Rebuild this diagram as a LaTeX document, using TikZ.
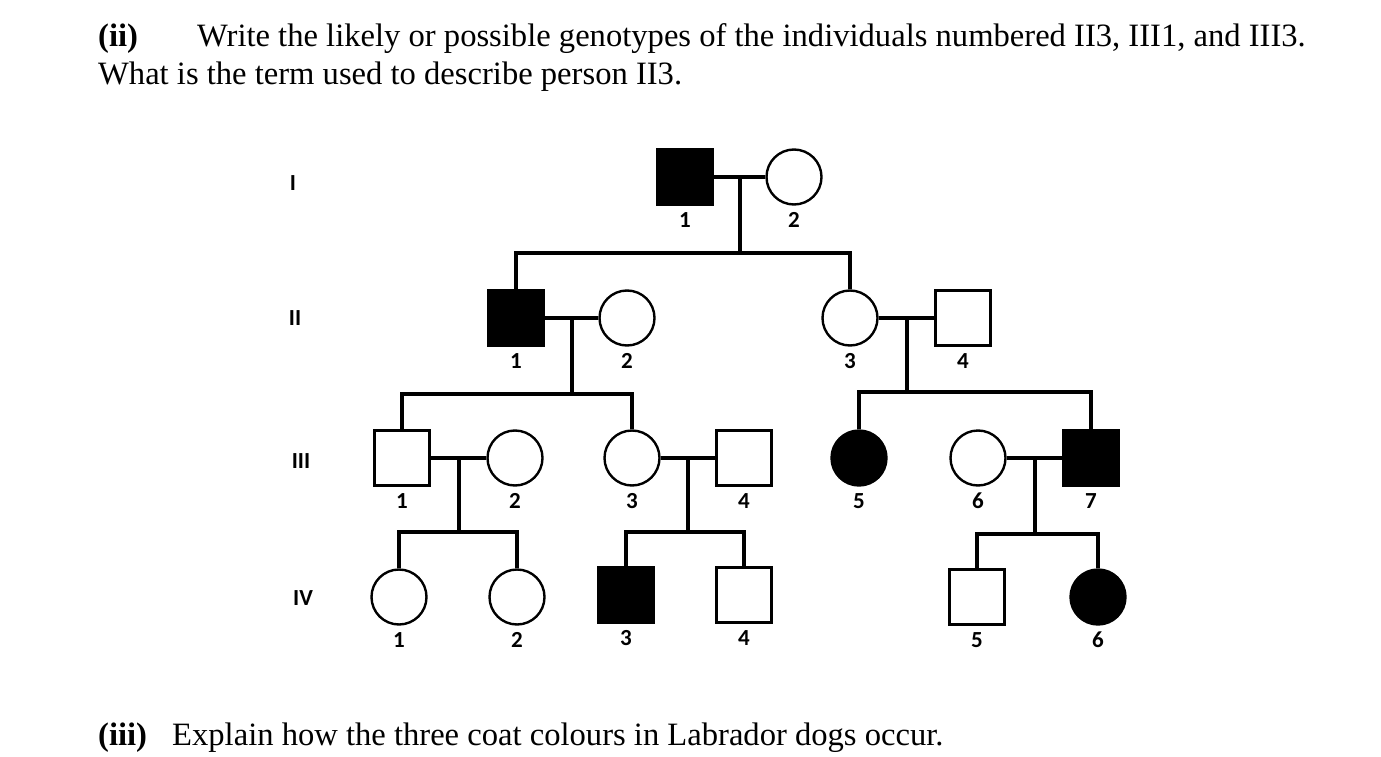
\documentclass[tikz,border=0pt]{standalone}
\usepackage{fontspec}
\setmainfont{Liberation Serif}
\newfontfamily\calibri{Carlito}
\usetikzlibrary{positioning, calc}

\begin{document}
\begin{tikzpicture}[
		x=1pt, y=-1pt,
		male/.style={draw, rectangle, minimum size=55, line width=2.4, label={[num]center:#1}},
		female/.style={draw, circle, minimum size=55, line width=2.4, label={[num]center:#1}},
		sick/.style={fill=black},
		num/.style={font=\calibri\bfseries\fontsize{23}{23}\selectfont, yshift=-43},
		gen/.style={font=\calibri\bfseries\fontsize{23}{23}\selectfont},
		qtext/.style={anchor=base west, font=\fontsize{32.6}{38}\selectfont, inner sep=0},
		link/.style={line width=4}
		]
		\useasboundingbox (0,0) rectangle (1381,757);
		
		% ==========================================
		% Question text
		% ==========================================
		\node[qtext] (partii) at (98,47) {\textbf{(ii)}};
		\node[qtext] (qii) at (197,47) {Write the likely or possible genotypes of the individuals numbered II3, III1, and III3.};
		\node[qtext] (qiib) at (98,85) {What is the term used to describe person II3.};
		\node[qtext] (partiii) at (98,745) {\textbf{(iii)}};
		\node[qtext] (qiii) at (172,745) {Explain how the three coat colours in Labrador dogs occur.};
		
		% ==========================================
		% Generation labels
		% ==========================================
		\node[gen] (gI) at (293,183) {I};
		\node[gen] (gII) at (295,318) {II};
		\node[gen] (gIII) at (301,461) {III};
		\node[gen] (gIV) at (303,598) {IV};
		
		% ==========================================
		% Individuals
		% ==========================================
		\node[male=1, sick] (I1) at (685,177) {};
		\node[female=2] (I2) at (794,177) {};
		
		\node[male=1, sick] (II1) at (516,318) {};
		\node[female=2] (II2) at (627,318) {};
		\node[female=3] (II3) at (850,318) {};
		\node[male=4] (II4) at (963,318) {};
		
		\node[male=1] (III1) at (402,458) {};
		\node[female=2] (III2) at (515,458) {};
		\node[female=3] (III3) at (632,458) {};
		\node[male=4] (III4) at (744,458) {};
		\node[female=5, sick] (III5) at (859,458) {};
		\node[female=6] (III6) at (978,458) {};
		\node[male=7, sick] (III7) at (1091,458) {};
		
		\node[female=1] (IV1) at (399,597) {};
		\node[female=2] (IV2) at (517,597) {};
		\node[male=3, sick] (IV3) at (626,595) {};
		\node[male=4] (IV4) at (744,595) {};
		\node[male=5] (IV5) at (977,597) {};
		\node[female=6, sick] (IV6) at (1098,597) {};
		
		% ==========================================
		% Matings and sibships
		% ==========================================
		\draw[link] (I1) -- (I2);
		\coordinate (mI) at ($(I1.east)!.5!(I2.west)$);
		\draw[link] (mI) -- ++(0,76) coordinate (sI);
		\draw[link] (II1.north) |- (sI) -| (II3.north);
		
		\draw[link] (II1) -- (II2);
		\coordinate (mII) at ($(II1.east)!.5!(II2.west)$);
		\draw[link] (mII) -- ++(0,76) coordinate (sII);
		\draw[link] (III1.north) |- (sII) -| (III3.north);
		
		\draw[link] (II3) -- (II4);
		\coordinate (mIIb) at ($(II3.east)!.5!(II4.west)$);
		\draw[link] (mIIb) -- ++(0,74) coordinate (sIIb);
		\draw[link] (III5.north) |- (sIIb) -| (III7.north);
		
		\draw[link] (III1) -- (III2);
		\coordinate (mIII) at ($(III1.east)!.5!(III2.west)$);
		\draw[link] (mIII) -- ++(0,74) coordinate (sIII);
		\draw[link] (IV1.north) |- (sIII) -| (IV2.north);
		
		\draw[link] (III3) -- (III4);
		\coordinate (mIIIb) at ($(III3.east)!.5!(III4.west)$);
		\draw[link] (mIIIb) -- ++(0,74) coordinate (sIIIb);
		\draw[link] (IV3.north) |- (sIIIb) -| (IV4.north);
		
		\draw[link] (III6) -- (III7);
		\coordinate (mIIIc) at ($(III6.east)!.5!(III7.west)$);
		\draw[link] (mIIIc) -- ++(0,76) coordinate (sIIIc);
		\draw[link] (IV5.north) |- (sIIIc) -| (IV6.north);
		
	\end{tikzpicture}
\end{document}
